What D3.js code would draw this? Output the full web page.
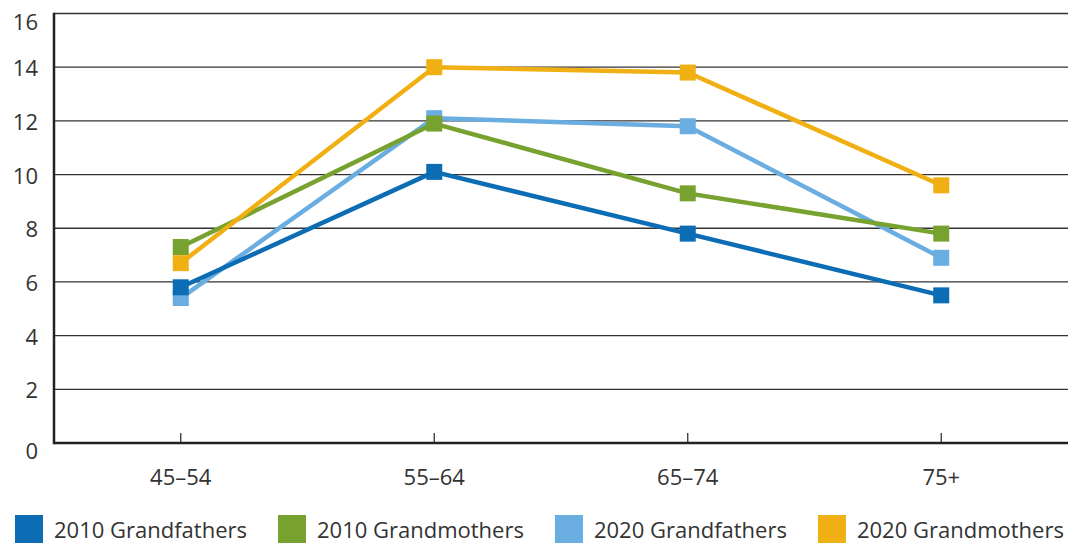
<!DOCTYPE html>
<html>
<head>
<meta charset="utf-8">
<script src="https://cdn.jsdelivr.net/npm/d3@7"></script>
<style>
  html, body { margin: 0; padding: 0; background: #fff; }
  svg { display: block; }
  text { font-family: "Open Sans", "Noto Sans", sans-serif; fill: #333; }
</style>
</head>
<body>
<svg id="chart" width="1079" height="544"></svg>
<script>
const categories = ["45–54", "55–64", "65–74", "75+"];
const seriesNames = ["2010 Grandfathers", "2010 Grandmothers", "2020 Grandfathers", "2020 Grandmothers"];
const grandfathers2010 = [5.8, 10.1, 7.8, 5.5];
const grandmothers2010 = [7.3, 11.9, 9.3, 7.8];
const grandfathers2020 = [5.4, 12.1, 11.8, 6.9];
const grandmothers2020 = [6.7, 14.0, 13.8, 9.6];
const yTicks = [0, 2, 4, 6, 8, 10, 12, 14, 16];
const colors = ["#0C6DB4", "#78A22F", "#6AADE0", "#F0B014"];

const series = [
  { name: seriesNames[0], values: grandfathers2010, color: colors[0] },
  { name: seriesNames[1], values: grandmothers2010, color: colors[1] },
  { name: seriesNames[2], values: grandfathers2020, color: colors[2] },
  { name: seriesNames[3], values: grandmothers2020, color: colors[3] }
];
// drawing order (back to front)
const drawOrder = [2, 0, 1, 3];

const mLeft = 54, mRight = 1068, mTop = 13.5, mBottom = 443;
const fs = 22;
const svg = d3.select("#chart");

const x = d3.scalePoint().domain(categories).range([mLeft, mRight]).padding(0.5);
const y = d3.scaleLinear().domain([0, 16]).range([mBottom, mTop]);

// gridlines
svg.append("g").selectAll("line").data(yTicks.filter(d => d > 0)).join("line")
  .attr("x1", mLeft).attr("x2", mRight)
  .attr("y1", d => y(d)).attr("y2", d => y(d))
  .attr("stroke", "#333").attr("stroke-width", 1.3);

// y labels
svg.append("g").selectAll("text").data(yTicks).join("text")
  .attr("x", 38)
  .attr("y", d => y(d) + (d === 16 || d === 0 ? 7 : 0))
  .attr("text-anchor", "end")
  .attr("dominant-baseline", "central")
  .attr("font-size", fs)
  .text(d => d);

// x ticks
svg.append("g").selectAll("line").data(categories).join("line")
  .attr("x1", d => x(d)).attr("x2", d => x(d))
  .attr("y1", mBottom - 10).attr("y2", mBottom)
  .attr("stroke", "#333").attr("stroke-width", 1.3);

// x labels
svg.append("g").selectAll("text").data(categories).join("text")
  .attr("x", d => x(d)).attr("y", 485)
  .attr("text-anchor", "middle")
  .attr("font-size", fs)
  .text(d => d);

// axes lines
svg.append("line").attr("x1", mLeft).attr("x2", mLeft).attr("y1", mTop - 0.7).attr("y2", mBottom + 1.2)
  .attr("stroke", "#222").attr("stroke-width", 2.5);
svg.append("line").attr("x1", mLeft).attr("x2", mRight).attr("y1", mBottom).attr("y2", mBottom)
  .attr("stroke", "#222").attr("stroke-width", 2.5);

const line = d3.line().x((d, i) => x(categories[i])).y(d => y(d));
const ms = 16;

drawOrder.forEach(k => {
  const s = series[k];
  const g = svg.append("g");
  g.append("path").attr("d", line(s.values))
    .attr("fill", "none").attr("stroke", s.color).attr("stroke-width", 4.5)
    .attr("stroke-linejoin", "round");
  g.selectAll("rect").data(s.values).join("rect")
    .attr("x", (d, i) => x(categories[i]) - ms / 2)
    .attr("y", d => y(d) - ms / 2)
    .attr("width", ms).attr("height", ms)
    .attr("fill", s.color);
});

// legend: flowing layout
const lg = svg.append("g");
let lx = 15;
series.forEach((s, i) => {
  lg.append("rect").attr("x", lx).attr("y", 515).attr("width", 28).attr("height", 28).attr("fill", s.color);
  const t = lg.append("text").attr("x", lx + 39).attr("y", 538).attr("font-size", fs).text(s.name);
  const w = t.node().getComputedTextLength();
  lx = lx + 39 + w + 31;
});
</script>
</body>
</html>
